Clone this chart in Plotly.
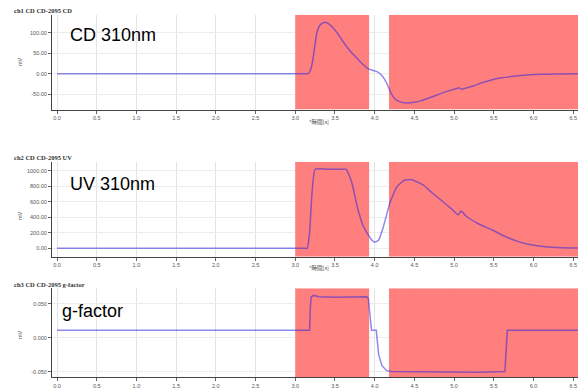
import plotly.graph_objects as go

# ---- data ----
x_ticks = [0.0, 0.5, 1.0, 1.5, 2.0, 2.5, 3.0, 3.5, 4.0, 4.5, 5.0, 5.5, 6.0, 6.5]
x_tick_labels = [f"{v:.1f}" for v in x_ticks]

cd_time = [0, 1.0, 2.0, 2.8, 3.05, 3.12, 3.16, 3.19, 3.22, 3.27, 3.31, 3.36, 3.41, 3.47, 3.54, 3.61,
           3.68, 3.75, 3.84, 3.92, 3.98, 4.03, 4.09, 4.15, 4.2, 4.26, 4.33, 4.40, 4.48, 4.58, 4.7,
           4.82, 4.94, 5.03, 5.06, 5.09, 5.15, 5.25, 5.35, 5.47, 5.6, 5.75, 5.9, 6.1, 6.3, 6.56]
cd_values = [0, 0, 0, 0, 0, 0, 0, 8, 32, 98, 118, 125, 123, 113, 96, 76,
             58, 43, 25, 12, 8, 5, -4, -22, -45, -62, -69, -71, -70, -66, -58,
             -49, -41, -36, -34, -38, -35, -29, -22, -15, -10, -6, -3, -1.5, -0.5, 0]

uv_time = [0, 1.0, 2.0, 2.8, 3.05, 3.12, 3.15, 3.18, 3.21, 3.25, 3.4, 3.55, 3.64, 3.68, 3.72, 3.78,
           3.86, 3.92, 3.97, 4.0, 4.05, 4.11, 4.19, 4.28, 4.38, 4.47, 4.61, 4.73, 4.86, 4.97, 5.05,
           5.09, 5.15, 5.3, 5.48, 5.65, 5.8, 5.95, 6.15, 6.35, 6.56]
uv_values = [0, 0, 0, 0, 0, 0, 0, 200, 700, 1020, 1020, 1020, 1020, 940, 817, 537,
             279, 172, 100, 77, 107, 279, 580, 795, 881, 885, 817, 710, 601, 505, 430,
             481, 417, 320, 236, 150, 90, 50, 20, 8, 5]

g_time = [0, 3.18, 3.19, 3.2, 3.23, 3.3, 3.5, 3.7, 3.9, 3.92, 3.94, 3.96, 4.02, 4.05, 4.09,
          4.15, 4.21, 4.6, 5.0, 5.1, 5.3, 5.64, 5.65, 5.67, 6.56]
g_values = [0.0109, 0.0109, 0.045, 0.060, 0.0625, 0.0605, 0.0598, 0.0602, 0.0605, 0.058, 0.035,
            0.0109, 0.0109, -0.025, -0.041, -0.0486, -0.050, -0.0502, -0.0508, -0.0515, -0.051,
            -0.050, -0.030, 0.0109, 0.0109]

cd_ticks = [-50, 0, 50, 100]
cd_tick_labels = ["-50.00", "0.00", "50.00", "100.00"]
uv_ticks = [0, 200, 400, 600, 800, 1000]
uv_tick_labels = ["0.00", "200.00", "400.00", "600.00", "800.00", "1000.00"]
g_ticks = [-0.05, 0, 0.05]
g_tick_labels = ["-0.050", "0.000", "0.050"]

fraction_windows = [(3.0, 3.93), (4.18, 6.56)]

panel_titles = ["ch1 CD CD-2095 CD", "ch2 CD CD-2095 UV", "ch3 CD CD-2095 g-factor"]
panel_labels = ["CD 310nm", "UV 310nm", "g-factor"]
x_title = "*時間[s]"
y_title = "mV"

# ---- layout ----
H = 390.0
def frac(px):
    return 1 - px / H

domains = [(frac(109.5), frac(15)), (frac(256.7), frac(161.7)), (frac(377), frac(288.3))]
yranges = [[-87, 143], [-108, 1117], [-0.058, 0.073]]
xrange_ = [-0.063, 6.56]
ytick_sets = [(cd_ticks, cd_tick_labels), (uv_ticks, uv_tick_labels), (g_ticks, g_tick_labels)]
series = [(cd_time, cd_values, 0.4), (uv_time, uv_values, 0.4), (g_time, g_values, 0)]

line_color = "rgba(50,40,220,0.55)"
tick_font = dict(family="Liberation Sans, Arial", size=5.5, color="#555")

fig = go.Figure()
layout = dict(
    width=584, height=390,
    margin=dict(l=52, r=6, t=0, b=0, autoexpand=False),
    paper_bgcolor="white", plot_bgcolor="white",
    showlegend=False,
    annotations=[],
)

for i in range(3):
    n = "" if i == 0 else str(i + 1)
    y0, y1 = yranges[i]
    for (a, b) in fraction_windows:
        fig.add_trace(go.Scatter(
            x=[a, b, b, a, a], y=[y0, y0, y1, y1, y0], mode="lines", fill="toself",
            fillcolor="#ff7f7f", line=dict(width=0, color="#ff7f7f"),
            xaxis="x" + n, yaxis="y" + n, hoverinfo="skip"))
    xs, ys, sm = series[i]
    line = dict(color=line_color, width=1.5)
    if sm:
        line.update(shape="spline", smoothing=sm)
    fig.add_trace(go.Scatter(
        x=xs, y=ys, mode="lines", line=line,
        xaxis="x" + n, yaxis="y" + n, hoverinfo="skip"))
    layout["xaxis" + n] = dict(
        domain=[0, 1], anchor="y" + n, range=xrange_,
        tickvals=x_ticks, ticktext=x_tick_labels, tickfont=tick_font,
        showgrid=True, gridcolor="#e4e4e4", gridwidth=1,
        showline=True, linecolor="#444", linewidth=1,
        ticks="outside", ticklen=3, tickcolor="#666", zeroline=False, fixedrange=True)
    tv, tt = ytick_sets[i]
    layout["yaxis" + n] = dict(
        domain=list(domains[i]), anchor="x" + n, range=yranges[i],
        tickvals=tv, ticktext=tt, tickfont=tick_font,
        showgrid=True, gridcolor="#ececec", gridwidth=1,
        showline=True, linecolor="#444", linewidth=1,
        ticks="outside", ticklen=3, tickcolor="#666", zeroline=False, fixedrange=True)

title_y = [10, 157, 284]
label_y = [34.5, 184, 311]
ytitle_y = [62, 216, 335]
for i in range(3):
    layout["annotations"].append(dict(
        text="<b>" + panel_titles[i] + "</b>", xref="paper", yref="paper",
        x=(12 - 52) / 526, y=frac(title_y[i]), xanchor="left", yanchor="middle",
        showarrow=False, font=dict(family="Liberation Serif, Times New Roman", size=6.5, color="#333")))
    layout["annotations"].append(dict(
        text=panel_labels[i], xref="paper", yref="paper",
        x=(68 - 52) / 526 if i < 2 else (60 - 52) / 526, y=frac(label_y[i]),
        xanchor="left", yanchor="middle", showarrow=False,
        font=dict(family="Liberation Sans, Arial", size=18, color="black")))
    layout["annotations"].append(dict(
        text=y_title, xref="paper", yref="paper", x=(20 - 52) / 526, y=frac(ytitle_y[i]),
        xanchor="center", yanchor="middle", textangle=-90, showarrow=False,
        font=dict(family="Liberation Sans, Arial", size=5.5, color="#555")))

for yy, ax in [(122, "x"), (268, "x2")]:
    layout["annotations"].append(dict(
        text=x_title, xref=ax, yref="paper", x=3.3, y=frac(yy),
        xanchor="center", yanchor="middle", showarrow=False,
        font=dict(family="Noto Sans CJK JP", size=5.5, color="#444")))

fig.update_layout(**layout)
fig.write_html("out.html", config={"displayModeBar": False, "staticPlot": True},
               post_script="document.body.style.margin='0';document.body.style.overflow='hidden';")
